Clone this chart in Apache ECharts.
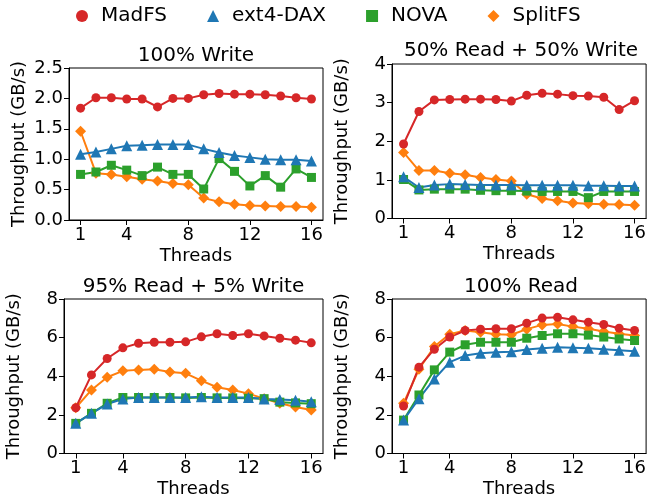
<!DOCTYPE html>
<html>
<head>
<meta charset="utf-8">
<script src="https://cdn.jsdelivr.net/npm/echarts@6/dist/echarts.min.js"></script>
<style>
  html, body { margin: 0; padding: 0; background: #fff; }
  #chart { width: 649px; height: 500px; }
</style>
</head>
<body>
<div id="chart"></div>
<script>
// threads on the x axis
var threads = [1, 2, 3, 4, 5, 6, 7, 8, 9, 10, 11, 12, 13, 14, 15, 16];
var xTicks = [1, 4, 8, 12, 16];

// 100% Write
var writeMadFS   = [1.84, 2.01, 2.01, 1.99, 1.99, 1.86, 2.00, 2.00, 2.06, 2.08, 2.07, 2.07, 2.06, 2.04, 2.01, 1.99];
var writeExt4    = [1.08, 1.12, 1.17, 1.22, 1.23, 1.24, 1.24, 1.24, 1.17, 1.11, 1.06, 1.03, 1.00, 0.99, 0.99, 0.97];
var writeNOVA    = [0.75, 0.79, 0.90, 0.82, 0.73, 0.87, 0.75, 0.75, 0.51, 1.01, 0.80, 0.56, 0.73, 0.54, 0.84, 0.70];
var writeSplitFS = [1.46, 0.77, 0.75, 0.71, 0.67, 0.64, 0.60, 0.58, 0.36, 0.30, 0.26, 0.24, 0.23, 0.22, 0.22, 0.21];

// 50% Read + 50% Write
var mixMadFS   = [1.93, 2.77, 3.07, 3.08, 3.09, 3.09, 3.08, 3.04, 3.19, 3.24, 3.22, 3.18, 3.17, 3.14, 2.82, 3.05];
var mixExt4    = [1.08, 0.80, 0.87, 0.89, 0.88, 0.87, 0.87, 0.87, 0.86, 0.86, 0.86, 0.86, 0.85, 0.85, 0.84, 0.84];
var mixNOVA    = [1.01, 0.74, 0.76, 0.76, 0.76, 0.73, 0.72, 0.72, 0.71, 0.70, 0.70, 0.70, 0.54, 0.70, 0.70, 0.70];
var mixSplitFS = [1.71, 1.24, 1.24, 1.17, 1.13, 1.06, 1.01, 0.97, 0.63, 0.52, 0.46, 0.40, 0.38, 0.37, 0.36, 0.34];

// 95% Read + 5% Write
var readMostMadFS   = [2.37, 4.07, 4.92, 5.47, 5.71, 5.76, 5.76, 5.78, 6.04, 6.20, 6.11, 6.20, 6.09, 5.97, 5.87, 5.73];
var readMostExt4    = [1.56, 2.08, 2.56, 2.82, 2.90, 2.90, 2.90, 2.90, 2.94, 2.90, 2.90, 2.90, 2.82, 2.80, 2.76, 2.68];
var readMostNOVA    = [1.56, 2.08, 2.60, 2.90, 2.90, 2.90, 2.90, 2.88, 2.90, 2.88, 2.88, 2.86, 2.84, 2.66, 2.62, 2.58];
var readMostSplitFS = [2.37, 3.29, 3.95, 4.28, 4.33, 4.36, 4.22, 4.15, 3.77, 3.43, 3.29, 3.10, 2.84, 2.60, 2.41, 2.25];

// 100% Read
var readMadFS   = [2.46, 4.47, 5.40, 6.03, 6.37, 6.44, 6.46, 6.46, 6.75, 7.01, 7.05, 6.92, 6.80, 6.68, 6.49, 6.37];
var readExt4    = [1.73, 2.84, 3.86, 4.73, 5.07, 5.19, 5.24, 5.27, 5.38, 5.45, 5.50, 5.48, 5.45, 5.40, 5.35, 5.29];
var readNOVA    = [1.73, 3.03, 4.33, 5.25, 5.63, 5.76, 5.76, 5.76, 5.97, 6.11, 6.20, 6.20, 6.13, 6.03, 5.93, 5.85];
var readSplitFS = [2.60, 4.36, 5.54, 6.18, 6.37, 6.28, 6.18, 6.15, 6.44, 6.66, 6.71, 6.57, 6.46, 6.32, 6.20, 6.11];

var panelTitles = ["100% Write", "50% Read + 50% Write", "95% Read + 5% Write", "100% Read"];
var yMax = [2.5, 4, 8, 8];
var yStep = [0.5, 1, 2, 2];

var colors = { "MadFS": "#d62728", "ext4-DAX": "#1f77b4", "NOVA": "#2ca02c", "SplitFS": "#ff7f0e" };
var symbols = { "MadFS": "circle", "ext4-DAX": "triangle", "NOVA": "rect", "SplitFS": "diamond" };
var symbolSizes = { "MadFS": 9, "ext4-DAX": 11, "NOVA": 9, "SplitFS": 11 };

var panelData = [
  { "MadFS": writeMadFS, "ext4-DAX": writeExt4, "NOVA": writeNOVA, "SplitFS": writeSplitFS },
  { "MadFS": mixMadFS, "ext4-DAX": mixExt4, "NOVA": mixNOVA, "SplitFS": mixSplitFS },
  { "MadFS": readMostMadFS, "ext4-DAX": readMostExt4, "NOVA": readMostNOVA, "SplitFS": readMostSplitFS },
  { "MadFS": readMadFS, "ext4-DAX": readExt4, "NOVA": readNOVA, "SplitFS": readSplitFS }
];

var grids = [
  { left: 69, top: 68, width: 254, height: 152 },
  { left: 392, top: 64, width: 258, height: 154.5 },
  { left: 64, top: 299, width: 259, height: 154.5 },
  { left: 392, top: 299, width: 258, height: 154.5 }
];
var titleTops = [46, 41, 277, 277];

var font = "DejaVu Sans";
var chart = echarts.init(document.getElementById("chart"));

var xAxes = [], yAxes = [], series = [], titles = [];
grids.forEach(function (g, i) {
  g.show = true;
  g.borderColor = "#000";
  g.borderWidth = 1;
  g.containLabel = false;

  titles.push({
    text: panelTitles[i],
    left: g.left + g.width / 2,
    top: titleTops[i],
    padding: 0,
    textAlign: "center",
    textStyle: { fontFamily: font, fontSize: 20, fontWeight: "normal", color: "#000" }
  });

  xAxes.push({
    type: "value", gridIndex: i, min: 0.25, max: 16.75,
    name: "Threads", nameLocation: "middle", nameGap: 27,
    nameTextStyle: { fontFamily: font, fontSize: 18, color: "#000" },
    axisLine: { show: true, lineStyle: { color: "#000", width: 1 } },
    axisTick: { show: true, length: 5, customValues: xTicks, lineStyle: { color: "#000" } },
    axisLabel: { customValues: xTicks, margin: 6, fontFamily: font, fontSize: 18, color: "#000" },
    splitLine: { show: false }
  });

  yAxes.push({
    type: "value", gridIndex: i, min: 0, max: yMax[i], interval: yStep[i],
    name: "Throughput (GB/s)", nameLocation: "middle", nameGap: 41,
    nameTextStyle: { fontFamily: font, fontSize: 18, color: "#000" },
    axisLine: { show: true, lineStyle: { color: "#000", width: 1 } },
    axisTick: { show: true, length: 5, lineStyle: { color: "#000" } },
    axisLabel: {
      margin: 6, fontFamily: font, fontSize: 18, color: "#000",
      formatter: i === 0 ? function (v) { return v.toFixed(1); } : "{value}"
    },
    splitLine: { show: false }
  });

  // drawn back to front so MadFS ends on top
  ["SplitFS", "NOVA", "ext4-DAX", "MadFS"].forEach(function (name) {
    var vals = panelData[i][name];
    series.push({
      name: name, type: "line", xAxisIndex: i, yAxisIndex: i,
      data: threads.map(function (t, k) { return [t, vals[k]]; }),
      symbol: symbols[name], symbolSize: symbolSizes[name],
      showAllSymbol: true, animation: false,
      itemStyle: { color: colors[name] },
      lineStyle: { color: colors[name], width: 2 }
    });
  });
});

var option = {
  animation: false,
  textStyle: { fontFamily: font },
  title: titles,
  legend: {
    top: 6, left: 76, padding: 0,
    itemWidth: 12, itemHeight: 12, itemGap: 40,
    textStyle: { fontFamily: font, fontSize: 20, color: "#000", padding: [0, 0, 0, 8] },
    data: [
      { name: "MadFS", icon: "circle" },
      { name: "ext4-DAX", icon: "triangle" },
      { name: "NOVA", icon: "rect" },
      { name: "SplitFS", icon: "diamond" }
    ]
  },
  grid: grids,
  xAxis: xAxes,
  yAxis: yAxes,
  series: series
};
chart.setOption(option);
</script>
</body>
</html>
